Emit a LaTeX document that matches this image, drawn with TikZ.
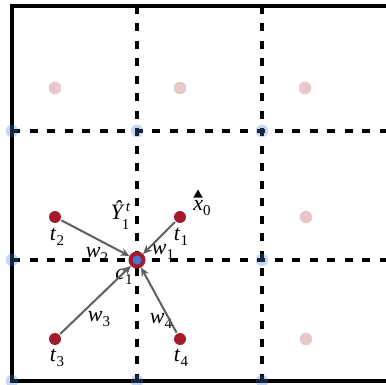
\documentclass[tikz,border=0pt]{standalone}
\usepackage{fontspec}
\setmainfont{Liberation Serif}
\usepackage{tikz}
\usetikzlibrary{arrows.meta}
\usetikzlibrary{shapes.geometric}
\usetikzlibrary{positioning}

\definecolor{dotred}{RGB}{163,27,42}
\definecolor{cellblue}{RGB}{70,120,210}
\definecolor{arrgray}{RGB}{95,95,95}

% italic letter with upright index below
\newcommand{\idx}[2]{\textit{#1}\raisebox{-5pt}{\fontsize{15}{15}\selectfont #2}}

\begin{document}
\begin{tikzpicture}[x=1pt,y=-1pt]
			\tikzset{vertex/.style = {shape=circle,fill=dotred,minimum size=12pt,
					inner sep = 0pt}}
			\tikzset{ghost/.style = {shape=circle,fill=dotred,opacity=0.25,
					minimum size=12.5pt, inner sep = 0pt}}
			\tikzset{anchorpt/.style = {shape=circle,fill=cellblue,opacity=0.3,
					minimum size=12.5pt, inner sep = 0pt}}
			\tikzset{center/.style = {shape=circle,draw=dotred,line width=4pt,
					fill=cellblue,minimum size=13pt, inner sep = 0pt}}
			\tikzset{lbl/.style = {font=\fontsize{22}{24}\selectfont, inner sep=0pt}}
			\tikzset{edge/.style = {-{Stealth[length=9pt,width=8pt]}, arrgray,
					line width=2pt, shorten <=1pt}}
			\tikzset{gridline/.style = {line width=3.5pt,
					dash pattern=on 8pt off 9.5pt}}
			\tikzset{frame/.style = {line width=4pt}}

		\useasboundingbox (0,0) rectangle (386,385);

		% grid
		\draw[gridline] (12,131) -- (386,131);
		\draw[gridline] (12,260) -- (386,260);
		\draw[gridline] (137,6) -- (137,381);
		\draw[gridline] (262,6) -- (262,381);
		\draw[frame] (386,6) -- (12,6) -- (12,381) -- (386,381);

		% cell anchors
		\node[anchorpt] (b1) at (12,131) {};
		\node[anchorpt] (b2) at (137,131) {};
		\node[anchorpt] (b3) at (262,131) {};
		\node[anchorpt] (b4) at (12,260) {};
		\node[anchorpt] (b5) at (262,260) {};
		\node[anchorpt] (b6) at (12,381) {};
		\node[anchorpt] (b7) at (137,381) {};
		\node[anchorpt] (b8) at (262,381) {};

		% vertices
		\node[ghost] (p1) at (55,88) {};
		\node[ghost] (p2) at (180,88) {};
		\node[ghost] (p3) at (305,88) {};
		\node[ghost] (p4) at (306,217) {};
		\node[ghost] (p5) at (306,339) {};

		\node[vertex] (t1) at (180,217) {};
		\node[vertex] (t2) at (55,217) {};
		\node[vertex] (t3) at (55,339) {};
		\node[vertex] (t4) at (180,339) {};
		\node[center] (c1) at (137,260) {};

		\node[regular polygon, regular polygon sides=3, fill=black,
			minimum size=11pt, inner sep=0pt] (x0mark) at (198,195) {};

		% labels
		\node[lbl] (lt1) at (181,237) {\idx{t}{1}};
		\node[lbl] (lt2) at (57,237) {\idx{t}{2}};
		\node[lbl] (lt3) at (57,358) {\idx{t}{3}};
		\node[lbl] (lt4) at (181,358) {\idx{t}{4}};
		\node[lbl] (lw1) at (163,252) {\idx{w}{1}};
		\node[lbl] (lw2) at (97,255) {\idx{w}{2}};
		\node[lbl] (lw3) at (99,319) {\idx{w}{3}};
		\node[lbl] (lw4) at (161,321) {\idx{w}{4}};
		\node[lbl] (lc1) at (124,277) {\idx{c}{1}};
		\node[lbl] (lx0) at (202,208) {\idx{x}{0}};
		\node[lbl] (lY) at (120,215) {\textit{\^{Y}}\rlap{\kern1pt\raisebox{8pt}{\fontsize{15}{15}\selectfont\textit{t}}}\kern-3pt\raisebox{-10pt}{\fontsize{15}{15}\selectfont 1}};

		%edges
		\draw[edge] (t1) to (c1);
		\draw[edge] (t2) to (c1);
		\draw[edge] (t3) to (c1);
		\draw[edge] (t4) to (c1);

\end{tikzpicture}
\end{document}
